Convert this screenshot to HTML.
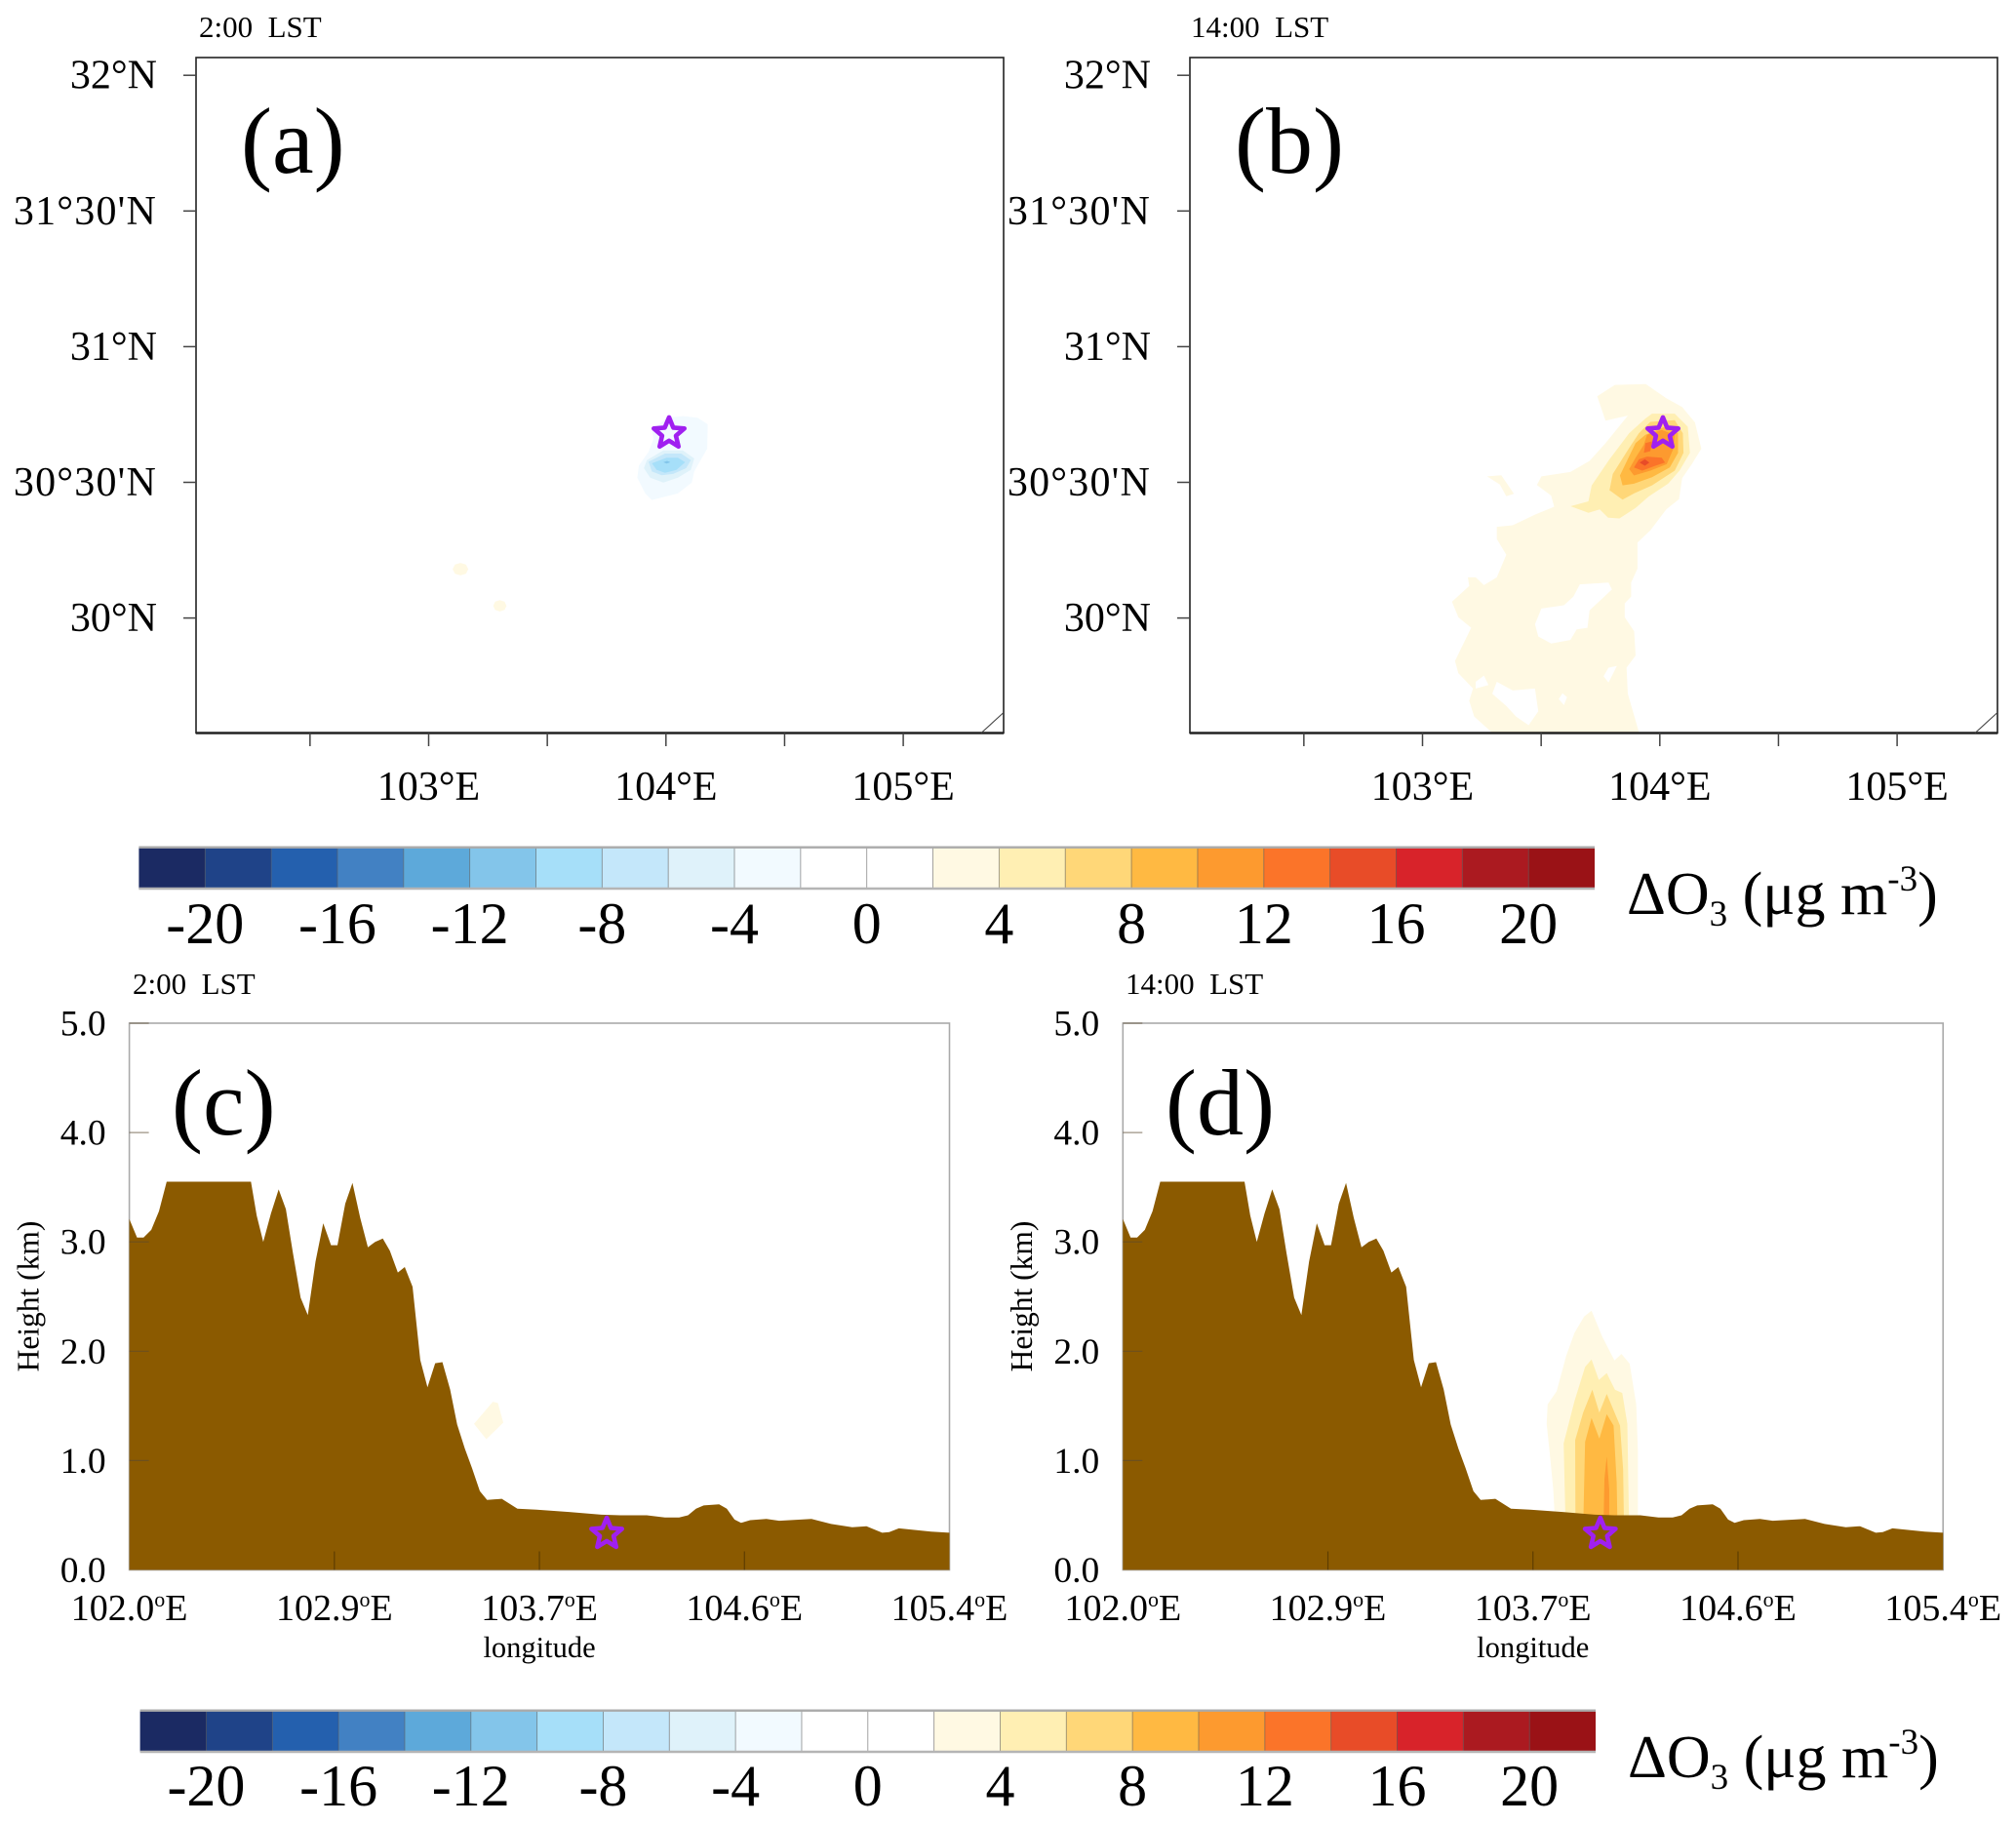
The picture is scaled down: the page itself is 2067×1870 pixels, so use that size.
<!DOCTYPE html>
<html lang="en">
<head>
<meta charset="utf-8">
<title>Ozone change maps and cross sections</title>
<style>
html,body{margin:0;padding:0;background:#fff;}
svg{display:block;font-family:"Liberation Serif",serif;fill:#000;}
</style>
</head>
<body>
<svg id="figure" xmlns="http://www.w3.org/2000/svg" width="2067" height="1870" viewBox="0 0 2067 1870">
  <rect width="2067" height="1870" fill="#fff"/>
  <g id="panel-a"></g>
  <g id="panel-b"></g>
  <g id="colorbar-top"></g>
  <g id="panel-c"></g>
  <g id="panel-d"></g>
  <g id="colorbar-bottom"></g>

  <text x="204" y="38" font-size="31">2:00&#160;&#160;LST</text>
  <text x="1221" y="38" font-size="31">14:00&#160;&#160;LST</text>
  <text x="136" y="1019" font-size="31">2:00&#160;&#160;LST</text>
  <text x="1154" y="1019" font-size="31">14:00&#160;&#160;LST</text>

  <text x="247" y="177" font-size="96">(a)</text>
  <text x="1266" y="177" font-size="96">(b)</text>
  <text x="176" y="1163" font-size="96">(c)</text>
  <text x="1195" y="1163" font-size="96">(d)</text>

  <text x="1668" y="937" font-size="62">&#916;O<tspan font-size="37" dy="12">3</tspan><tspan dy="-12"> (&#956;g m</tspan><tspan font-size="37" dy="-24">-3</tspan><tspan dy="24">)</tspan></text>
  <text x="1669" y="1822" font-size="62">&#916;O<tspan font-size="37" dy="12">3</tspan><tspan dy="-12"> (&#956;g m</tspan><tspan font-size="37" dy="-24">-3</tspan><tspan dy="24">)</tspan></text>
</svg>

<script>
/* ---------- colour scale ---------- */
const colorBounds = [-22,-20,-18,-16,-14,-12,-10,-8,-6,-4,-2,0,2,4,6,8,10,12,14,16,18,20,22];
const colorFills = ['#1b2a63','#1f4388','#2460ae','#4281c3','#5da9da','#83c5ea','#a6dff9','#c4e7fa','#dff2fa','#f2faff','#ffffff','#ffffff','#fff9e3','#ffefb3','#ffd778','#ffb942','#fd9a2f','#fb7429','#e84c28','#d8232a','#ab1a20','#9a1216'];
const colorbarTicks = [-20,-16,-12,-8,-4,0,4,8,12,16,20];

/* ---------- map axes ---------- */
const mapLonTicks = [102.5,103,103.5,104,104.5,105];
const mapLonLabels = [[103,'103°E'],[104,'104°E'],[105,'105°E']];
const mapLatTicks = [32,31.5,31,30.5,30];
const mapLatLabels = ['32°N',"31°30'N",'31°N',"30°30'N",'30°N'];
const starLon = 104.013;
const starLat = 30.68;

/* ---------- panel (a) contours: [lon, lat] ---------- */
const aLevelMinus2 = [[104.003,30.738],[104.071,30.744],[104.133,30.738],[104.176,30.714],[104.174,30.624],[104.146,30.582],[104.119,30.540],[104.109,30.499],[104.050,30.459],[103.941,30.435],[103.913,30.459],[103.879,30.517],[103.886,30.562],[103.927,30.612],[103.948,30.660],[103.941,30.690]];
const aLevelMinus4 = [[103.920,30.582],[103.989,30.618],[104.071,30.618],[104.119,30.588],[104.105,30.546],[104.050,30.517],[103.989,30.499],[103.934,30.517],[103.907,30.552]];
const aLevelMinus6 = [[103.927,30.576],[103.996,30.606],[104.064,30.606],[104.105,30.582],[104.085,30.552],[104.030,30.531],[103.982,30.526],[103.941,30.540]];
const aLevelMinus8 = [[103.941,30.570],[104.003,30.591],[104.050,30.591],[104.081,30.574],[104.044,30.546],[103.996,30.535],[103.961,30.546]];
const aLevelMinus10 = [[103.989,30.574],[104.005,30.579],[104.019,30.574],[104.003,30.569]];
const aSpot1 = [[103.111,30.197],[103.134,30.203],[103.157,30.197],[103.167,30.180],[103.157,30.163],[103.134,30.157],[103.111,30.163],[103.101,30.180]];
const aSpot2 = [[103.280,30.060],[103.300,30.066],[103.320,30.060],[103.328,30.045],[103.320,30.030],[103.300,30.024],[103.280,30.030],[103.272,30.045]];

/* ---------- panel (b) contours: [lon, lat] ---------- */
const bOuter = [[103.736,30.817],[103.811,30.859],[103.941,30.862],[104.027,30.810],[104.094,30.778],[104.148,30.721],[104.175,30.624],[104.135,30.567],[104.094,30.515],[104.081,30.438],[104.027,30.400],[103.960,30.323],[103.906,30.278],[103.906,30.182],[103.879,30.131],[103.879,30.079],[103.852,30.054],[103.852,30.003],[103.892,29.951],[103.898,29.862],[103.860,29.817],[103.865,29.721],[103.914,29.573],[103.299,29.573],[103.218,29.637],[103.197,29.695],[103.213,29.740],[103.151,29.797],[103.137,29.842],[103.205,29.964],[103.151,30.003],[103.124,30.060],[103.197,30.118],[103.191,30.150],[103.224,30.150],[103.259,30.121],[103.313,30.150],[103.353,30.233],[103.313,30.291],[103.313,30.336],[103.380,30.342],[103.474,30.381],[103.555,30.410],[103.542,30.451],[103.482,30.490],[103.501,30.522],[103.623,30.538],[103.704,30.579],[103.771,30.644],[103.865,30.746],[103.771,30.727]];
const bHole1 = [[103.663,30.124],[103.784,30.131],[103.798,30.105],[103.704,30.028],[103.695,29.964],[103.650,29.958],[103.623,29.919],[103.542,29.906],[103.488,29.932],[103.474,29.977],[103.501,30.035],[103.596,30.047],[103.636,30.079]];
const bHole2 = [[103.784,29.817],[103.819,29.823],[103.784,29.762],[103.763,29.785]];
const bHole3 = [[103.259,29.788],[103.278,29.753],[103.224,29.740],[103.224,29.765]];
const bHole4 = [[103.313,29.765],[103.380,29.733],[103.474,29.740],[103.488,29.656],[103.447,29.605],[103.394,29.637],[103.353,29.676],[103.294,29.721]];
const bHole5 = [[103.590,29.723],[103.609,29.708],[103.596,29.679],[103.574,29.701]];
const bBlob = [[103.272,30.522],[103.332,30.526],[103.385,30.458],[103.353,30.449],[103.326,30.492]];
const bLevel4 = [[103.967,30.753],[104.063,30.753],[104.118,30.705],[104.127,30.609],[104.083,30.543],[104.035,30.495],[103.953,30.448],[103.898,30.406],[103.830,30.367],[103.782,30.370],[103.747,30.400],[103.699,30.388],[103.624,30.412],[103.699,30.430],[103.713,30.489],[103.788,30.585],[103.871,30.681],[103.939,30.735]];
const bLevel6 = [[103.960,30.723],[104.063,30.729],[104.097,30.681],[104.100,30.609],[104.063,30.543],[103.967,30.489],[103.891,30.459],[103.843,30.436],[103.788,30.471],[103.802,30.531],[103.871,30.627],[103.912,30.681]];
const bLevel8 = [[103.939,30.675],[104.022,30.705],[104.077,30.681],[104.077,30.609],[104.042,30.555],[103.967,30.519],[103.891,30.495],[103.843,30.489],[103.832,30.525],[103.878,30.609],[103.898,30.645]];
const bLevel10 = [[103.946,30.675],[104.008,30.693],[104.063,30.675],[104.056,30.621],[104.029,30.567],[103.960,30.543],[103.891,30.525],[103.871,30.549],[103.898,30.591],[103.933,30.639]];
const bLevel12a = [[103.912,30.585],[103.946,30.595],[104.008,30.591],[104.022,30.573],[103.981,30.561],[103.926,30.543],[103.891,30.555]];
const bLevel12b = [[103.939,30.645],[103.967,30.651],[103.960,30.615],[103.933,30.609]];
const bLevel14 = [[103.915,30.573],[103.937,30.585],[103.956,30.573],[103.937,30.561]];

/* ---------- cross-section axes and terrain ---------- */
const sectionLonLabels = ['102.0','102.9','103.7','104.6','105.4'];
const sectionHeightTicks = [0,1,2,3,4,5];
const terrainLon = [102.000,102.032,102.059,102.091,102.123,102.155,102.504,102.528,102.555,102.587,102.619,102.649,102.678,102.710,102.740,102.772,102.804,102.836,102.863,102.895,102.925,102.957,102.989,103.019,103.051,103.080,103.113,103.142,103.174,103.206,103.236,103.268,103.298,103.330,103.359,103.391,103.421,103.453,103.483,103.544,103.609,103.689,103.823,103.957,104.038,104.145,104.220,104.279,104.316,104.349,104.381,104.445,104.477,104.509,104.536,104.574,104.641,104.694,104.828,104.909,104.997,105.056,105.121,105.150,105.190,105.324,105.400];
const terrainHeight = [3.21,3.04,3.04,3.11,3.28,3.55,3.55,3.24,3.00,3.26,3.48,3.30,2.90,2.49,2.33,2.82,3.17,2.97,2.97,3.35,3.54,3.22,2.95,3.00,3.03,2.92,2.72,2.77,2.59,1.92,1.67,1.89,1.90,1.65,1.33,1.11,0.93,0.72,0.64,0.65,0.56,0.55,0.53,0.505,0.50,0.50,0.48,0.48,0.50,0.56,0.59,0.60,0.56,0.46,0.43,0.455,0.466,0.45,0.466,0.42,0.39,0.40,0.34,0.346,0.38,0.35,0.34];
const sectionStarLon = 103.979;
const sectionStarHeight = 0.33;

/* ---------- cross-section contours: [lon, height] ---------- */
const cLevel2 = [[103.429,1.335],[103.507,1.538],[103.528,1.526],[103.550,1.347],[103.480,1.195]];
const dLevel2 = [[103.791,0.45],[103.784,0.74],[103.771,1.037],[103.757,1.335],[103.761,1.514],[103.798,1.633],[103.838,1.96],[103.872,2.168],[103.912,2.317],[103.943,2.371],[103.986,2.139],[104.038,1.915],[104.067,1.975],[104.101,1.886],[104.128,1.514],[104.135,1.097],[104.135,0.45]];
const dLevel4 = [[103.835,0.45],[103.827,1.157],[103.872,1.543],[103.916,1.856],[103.943,1.924],[103.973,1.737],[104.006,1.799],[104.040,1.648],[104.070,1.618],[104.091,1.335],[104.098,0.45]];
const dLevel6 = [[103.876,0.45],[103.875,1.186],[103.908,1.439],[103.946,1.648],[103.975,1.439],[104.006,1.609],[104.061,1.32],[104.074,0.918],[104.077,0.45]];
const dLevel8 = [[103.909,0.45],[103.916,1.171],[103.943,1.389],[103.975,1.201],[104.006,1.424],[104.034,1.32],[104.047,0.799],[104.050,0.45]];
const dLevel10 = [[103.993,0.45],[103.996,0.829],[104.006,1.037],[104.016,0.74],[104.016,0.45]];

/* ---------- drawing helpers ---------- */
const SVGNS = 'http://www.w3.org/2000/svg';
function add(tag, attrs, parent) {
  const node = document.createElementNS(SVGNS, tag);
  for (const k in attrs) node.setAttribute(k, attrs[k]);
  parent.appendChild(node);
  return node;
}
function fillForLevel(level) {
  const i = colorBounds.indexOf(level);
  return colorFills[level > 0 ? i : i - 1];
}
function ringPath(ring, xf, yf) {
  return ring.map((p, i) => (i ? 'L' : 'M') + xf(p[0]).toFixed(1) + ' ' + yf(p[1]).toFixed(1)).join('') + 'Z';
}
function drawStar(parent, cx, cy) {
  const pts = [];
  for (let i = 0; i < 10; i++) {
    const r = i % 2 ? 7.4 : 16.5;
    const a = -Math.PI / 2 + i * Math.PI / 5;
    pts.push((cx + r * Math.cos(a)).toFixed(1) + ',' + (cy + r * Math.sin(a)).toFixed(1));
  }
  const star = add('polygon', {points: pts.join(' '), fill: 'none', stroke: '#a020f0', 'stroke-width': 4.6, 'stroke-linejoin': 'round'}, parent);
  
  
}

/* ---------- map panel ---------- */
function drawMap(id, dx, layers) {
  const g = document.getElementById(id);
  const L = 201 + dx, R = 1029 + dx, T = 59, B = 751.5;
  const xMap = lon => 439.5 + dx + (lon - 103) * 243.3;
  const yMap = lat => 633.6 - (lat - 30) * 278.2;
  const clip = add('clipPath', {id: id + '-clip'}, g);
  add('rect', {x: L, y: T, width: R - L, height: B - T}, clip);
  const plot = add('g', {'clip-path': 'url(#' + id + '-clip)'}, g);
  
  
  layers.forEach(layer => {
    const d = layer.rings.map(r => ringPath(r, xMap, yMap)).join('');
    const area = add('path', {d: d, fill: fillForLevel(layer.level), 'fill-rule': 'evenodd'}, plot);
    
    
  });
  const frame = add('rect', {x: L, y: T, width: R - L, height: B - T, fill: 'none', stroke: '#222', 'stroke-width': 1.6}, g);
  
  
  const base = add('line', {x1: L, x2: R, y1: B, y2: B, stroke: '#222', 'stroke-width': 2.6}, g);
  
  
  const corner = add('line', {x1: R - 23, y1: B, x2: R, y2: B - 21, stroke: '#444', 'stroke-width': 1.1}, g);
  
  
  mapLonTicks.forEach(v => {
    const t = add('line', {x1: xMap(v), x2: xMap(v), y1: B, y2: B + 13.5, stroke: '#444', 'stroke-width': 1.5}, g);
    
    
  });
  mapLonLabels.forEach(item => {
    const t = add('text', {x: xMap(item[0]), y: 820, 'font-size': 42, 'text-anchor': 'middle'}, g);
    t.textContent = item[1];
    
    
  });
  mapLatTicks.forEach((v, i) => {
    const t = add('line', {x1: L - 13, x2: L, y1: yMap(v), y2: yMap(v), stroke: '#444', 'stroke-width': 1.5}, g);
    
    
    const s = add('text', {x: 161 + dx, y: yMap(v) + 13.5, 'font-size': 42, 'text-anchor': 'end'}, g);
    s.textContent = mapLatLabels[i];
    if (mapLatLabels[i].length > 5) s.setAttribute('letter-spacing', '1.2');
    
    
  });
  drawStar(g, xMap(starLon), yMap(starLat));
}

/* ---------- cross-section panel ---------- */
function drawSection(id, dx, layers) {
  const g = document.getElementById(id);
  const L = 132.6 + dx, R = 973.5 + dx, T = 1049, B = 1609.5;
  const xSec = lon => L + (lon - 102) / 3.4 * (R - L);
  const ySec = h => B - h * (B - T) / 5;
  const frame = add('rect', {x: L, y: T, width: R - L, height: B - T, fill: 'none', stroke: '#aaa', 'stroke-width': 1.6}, g);
  
  
  layers.forEach(layer => {
    const area = add('path', {d: layer.rings.map(r => ringPath(r, xSec, ySec)).join(''), fill: fillForLevel(layer.level)}, g);
    
    
  });
  let d = 'M' + xSec(terrainLon[0]).toFixed(1) + ' ' + ySec(0).toFixed(1);
  terrainLon.forEach((lon, i) => { d += 'L' + xSec(lon).toFixed(1) + ' ' + ySec(terrainHeight[i]).toFixed(1); });
  d += 'L' + xSec(terrainLon[terrainLon.length - 1]).toFixed(1) + ' ' + ySec(0).toFixed(1) + 'Z';
  const terrain = add('path', {d: d, fill: '#8b5a00'}, g);
  
  
  sectionHeightTicks.forEach(v => {
    if (v > 0) {
      const t = add('line', {x1: L, x2: L + 20, y1: ySec(v), y2: ySec(v), stroke: '#5a4a30', 'stroke-opacity': 0.6, 'stroke-width': 1.2}, g);
      
      
    }
    const s = add('text', {x: L - 24, y: ySec(v) + 12.5, 'font-size': 37.5, 'text-anchor': 'end'}, g);
    s.textContent = v.toFixed(1);
    
    
  });
  sectionLonLabels.forEach((lab, i) => {
    const x = L + (R - L) * i / (sectionLonLabels.length - 1);
    if (i > 0 && i < sectionLonLabels.length - 1) {
      const t = add('line', {x1: x, x2: x, y1: B - 19, y2: B, stroke: '#4a3000', 'stroke-opacity': 0.7, 'stroke-width': 1.2}, g);
      
      
    }
    const s = add('text', {x: x, y: 1661, 'font-size': 38, 'text-anchor': 'middle'}, g);
    
    
    s.appendChild(document.createTextNode(lab));
    const o = add('tspan', {'font-size': 22, dy: -14}, s);
    o.textContent = 'o';
    const e = add('tspan', {dy: 14}, s);
    e.textContent = 'E';
  });
  const xTitle = add('text', {x: (L + R) / 2, y: 1699, 'font-size': 30.5, 'text-anchor': 'middle'}, g);
  xTitle.textContent = 'longitude';
  
  
  const yTitle = add('text', {x: 0, y: 0, 'font-size': 31.5, 'text-anchor': 'middle', transform: 'translate(' + (39.5 + dx) + ',1329) rotate(-90)'}, g);
  yTitle.textContent = 'Height (km)';
  
  
  drawStar(g, xSec(sectionStarLon), ySec(sectionStarHeight));
}

/* ---------- colour bar ---------- */
function drawColorbar(id, L, R, T, B, labelY) {
  const g = document.getElementById(id);
  const xBar = v => L + (v - colorBounds[0]) / (colorBounds[colorBounds.length - 1] - colorBounds[0]) * (R - L);
  colorFills.forEach((c, i) => {
    const box = add('rect', {x: xBar(colorBounds[i]), y: T, width: xBar(colorBounds[i + 1]) - xBar(colorBounds[i]), height: B - T, fill: c}, g);
    
    
    if (i > 0) {
      const sep = add('line', {x1: xBar(colorBounds[i]), x2: xBar(colorBounds[i]), y1: T, y2: B, stroke: '#555', 'stroke-opacity': 0.6, 'stroke-width': 0.9}, g);
      
      
    }
  });
  const top = add('line', {x1: L, x2: R, y1: T, y2: T, stroke: '#aaa', 'stroke-width': 2.4}, g);
  
  
  const bottom = add('line', {x1: L, x2: R, y1: B, y2: B, stroke: '#b5b5b5', 'stroke-width': 2.4}, g);
  
  
  colorbarTicks.forEach(v => {
    const t = add('text', {x: xBar(v), y: labelY, 'font-size': 60, 'text-anchor': 'middle'}, g);
    t.textContent = String(v);
    
    
  });
}

drawMap('panel-a', 0, [
  {level: 2, rings: [aSpot1]}, {level: 2, rings: [aSpot2]},
  {level: -2, rings: [aLevelMinus2]}, {level: -4, rings: [aLevelMinus4]},
  {level: -6, rings: [aLevelMinus6]}, {level: -8, rings: [aLevelMinus8]},
  {level: -10, rings: [aLevelMinus10]}
]);
drawMap('panel-b', 1019, [
  {level: 2, rings: [bOuter, bHole1, bHole2, bHole3, bHole4, bHole5]},
  {level: 2, rings: [bBlob]},
  {level: 4, rings: [bLevel4]}, {level: 6, rings: [bLevel6]},
  {level: 8, rings: [bLevel8]}, {level: 10, rings: [bLevel10]},
  {level: 12, rings: [bLevel12a, bLevel12b]}, {level: 14, rings: [bLevel14]}
]);
drawColorbar('colorbar-top', 142.4, 1635, 868.7, 911, 967);
drawSection('panel-c', 0, [{level: 2, rings: [cLevel2]}]);
drawSection('panel-d', 1018.7, [
  {level: 2, rings: [dLevel2]}, {level: 4, rings: [dLevel4]},
  {level: 6, rings: [dLevel6]}, {level: 8, rings: [dLevel8]},
  {level: 10, rings: [dLevel10]}
]);
drawColorbar('colorbar-bottom', 143.6, 1636, 1753.7, 1796, 1851);
</script>
</body>
</html>
